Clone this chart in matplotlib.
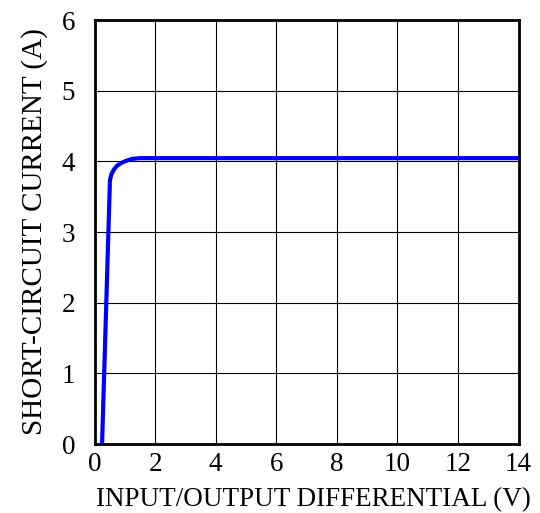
import matplotlib
matplotlib.use("Agg")
import matplotlib.pyplot as plt

x_vals = [0.25, 0.51, 0.56, 0.65, 0.75, 0.90, 1.06, 1.25, 1.50, 14.0]
y_vals = [0.00, 3.73, 3.82, 3.89, 3.94, 3.98, 4.01, 4.035, 4.045, 4.045]
x_ticks = [0, 2, 4, 6, 8, 10, 12, 14]
y_ticks = [0, 1, 2, 3, 4, 5, 6]

plt.rcParams['font.family'] = ['Liberation Serif', 'DejaVu Serif']

fig = plt.figure(figsize=(5.40, 5.13), dpi=100)
ax = fig.add_axes([94.5/540, 1-444/513, 424/540, 424/513])
ax.plot(x_vals, y_vals, color='#0000ff', lw=3.0, solid_capstyle='butt', zorder=3, clip_on=False)
ax.set_xlim(0, 14)
ax.set_ylim(0, 6)
ax.set_xticks(x_ticks)
ax.set_yticks(y_ticks)
ax.grid(True, color='black', lw=0.8)
ax.tick_params(length=0, labelsize=19.5)
ax.tick_params(axis='x', pad=6)
ax.tick_params(axis='y', pad=14)
for s in ax.spines.values():
    s.set_linewidth(2.0)
ax.set_xlabel('INPUT/OUTPUT DIFFERENTIAL (V)', fontsize=19.5, labelpad=7)
ax.xaxis.label.set_x(0.517)
ax.set_ylabel('SHORT-CIRCUIT CURRENT (A)', fontsize=21, labelpad=10)
fig.savefig('out.png', dpi=100)
